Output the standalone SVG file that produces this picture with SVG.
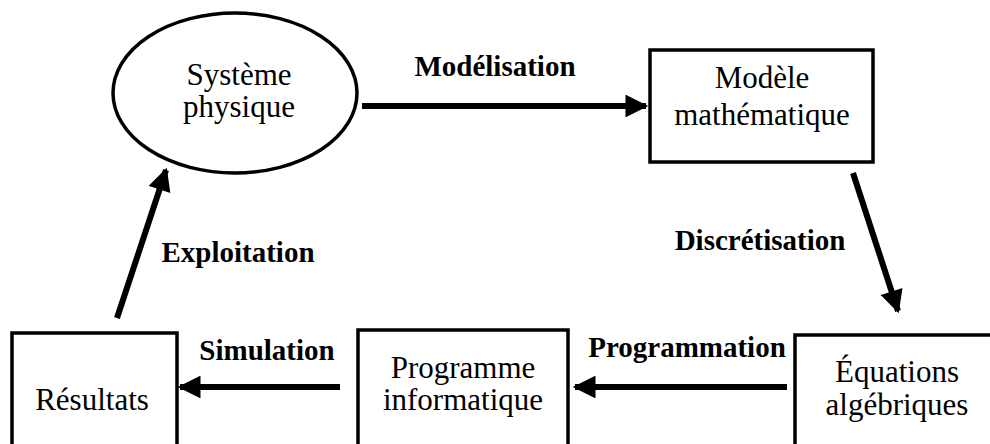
<svg xmlns="http://www.w3.org/2000/svg" width="990" height="444" viewBox="0 0 990 444">
<defs>
<marker id="ah" viewBox="0 0 10 10" refX="9" refY="5" markerWidth="4.2" markerHeight="3.8" orient="auto" markerUnits="strokeWidth">
<path d="M0,0 L10,5 L0,10 Z" fill="#000"/>
</marker>
<style>
.node{fill:#fff;stroke:#000;stroke-width:3.5}
.nt{font-family:"Liberation Serif","Times New Roman",serif;font-size:31px;fill:#000;text-anchor:middle}
.lb{font-family:"Liberation Serif","Times New Roman",serif;font-size:29px;font-weight:bold;fill:#000;text-anchor:middle}
.cn{stroke:#000;stroke-width:6;fill:none;marker-end:url(#ah)}
</style>
</defs>
<rect width="990" height="444" fill="#fff"/>
<g id="systeme">
<ellipse class="node" cx="235" cy="93" rx="122" ry="80"/>
<text class="nt" x="239" y="85">Système</text>
<text class="nt" x="239" y="117">physique</text>
</g>
<g id="modele">
<rect class="node" x="650" y="50" width="223" height="112"/>
<text class="nt" x="762" y="88">Modèle</text>
<text class="nt" x="762" y="125">mathématique</text>
</g>
<g id="equations">
<rect class="node" x="795" y="335" width="200" height="120"/>
<text class="nt" x="897" y="382">Équations</text>
<text class="nt" x="897" y="415">algébriques</text>
</g>
<g id="programme">
<rect class="node" x="358" y="330" width="210" height="125"/>
<text class="nt" x="463" y="378">Programme</text>
<text class="nt" x="463" y="410">informatique</text>
</g>
<g id="resultats">
<rect class="node" x="12" y="333" width="165" height="122"/>
<text class="nt" x="92" y="410">Résultats</text>
</g>
<g id="connectors">
<line class="cn" x1="362" y1="106" x2="646" y2="106"/>
<line class="cn" x1="853" y1="173" x2="898" y2="311"/>
<line class="cn" x1="787" y1="387" x2="575" y2="387"/>
<line class="cn" x1="340" y1="387" x2="180" y2="387"/>
<line class="cn" x1="117" y1="318" x2="166" y2="170"/>
</g>
<g id="labels">
<text class="lb" x="495" y="76">Modélisation</text>
<text class="lb" x="760" y="250">Discrétisation</text>
<text class="lb" x="687" y="357">Programmation</text>
<text class="lb" x="267" y="360">Simulation</text>
<text class="lb" x="238" y="262">Exploitation</text>
</g>
</svg>
